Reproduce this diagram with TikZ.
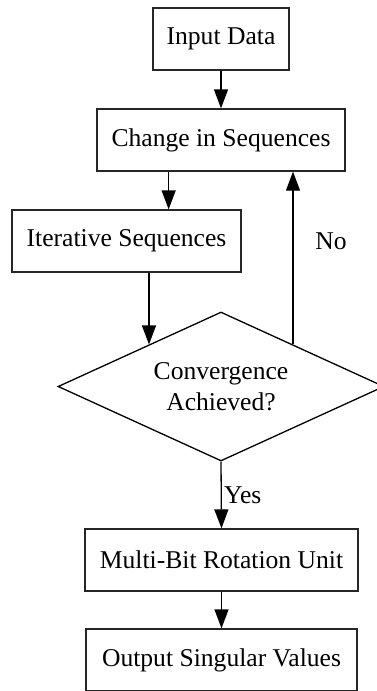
\documentclass[tikz,border=0pt]{standalone}
\usepackage{fontspec}
\setmainfont{Liberation Serif}
\usetikzlibrary{arrows.meta,shapes.geometric,calc}
\begin{document}
\begin{tikzpicture}[x=1pt,y=-1pt,
  every node/.style={font=\fontsize{25.6}{31}\selectfont},
  stepbox/.style={draw=black!85,line width=1.3pt,rectangle,minimum height=62pt,inner sep=0pt,align=center},
  decide/.style={draw=black,line width=1.3pt,diamond,aspect=2.19,minimum width=326pt,minimum height=149pt,inner sep=0pt,align=center},
  arr/.style={line width=1.3pt,-{Triangle[length=19pt,width=14pt]}},
  plain/.style={line width=1.3pt},
  lbl/.style={inner sep=0pt}]
\useasboundingbox (0,0) rectangle (376,691);
\node[stepbox,minimum width=136pt] (inp) at (221,39) {Input Data};
\node[stepbox,minimum width=248pt] (chg) at (221,140) {Change in Sequences};
\node[stepbox,minimum width=229pt] (itr) at (126.5,241) {Iterative Sequences};
\node[decide] (conv) at (221,386.5) {Convergence\\Achieved?};
\node[stepbox,minimum width=273pt] (mbr) at (221.5,560) {Multi-Bit Rotation Unit};
\node[stepbox,minimum width=271pt] (out) at (221.5,660) {Output Singular Values};
\coordinate (c1) at ($(chg.south west)!0.29!(chg.south east)$);
\coordinate (dl) at ($(conv.north)!0.44!(conv.west)$);
\coordinate (dr) at ($(conv.north)!0.44!(conv.east)$);
\draw[arr] (inp) -- (chg);
\draw[arr] (c1) -- (c1 |- itr.north);
\draw[arr] (dl |- itr.south) -- (dl);
\draw[arr] (dr) -- (dr |- chg.south);
\draw[arr] (conv.south) -- (mbr.north);
\draw[arr] (mbr) -- (out);
\node[lbl] (no) at (331,241) {No};
\node[lbl,anchor=west] (yes) at (224,495) {Yes};
\end{tikzpicture}
\end{document}
